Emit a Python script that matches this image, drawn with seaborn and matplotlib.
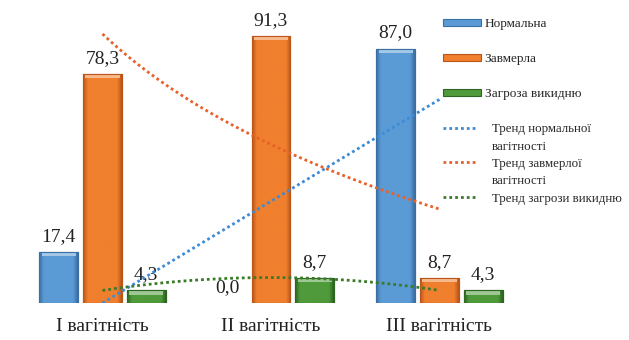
import numpy as np
import pandas as pd
import matplotlib
matplotlib.use("Agg")
import matplotlib.pyplot as plt
from matplotlib.patches import Patch, Rectangle
from matplotlib.lines import Line2D
import seaborn as sns

# Data
categories = ["I вагітність", "II вагітність", "III вагітність"]
series = ["Нормальна", "Завмерла", "Загроза викидню"]
normal = [17.4, 0.0, 87.0]
missed = [78.3, 91.3, 8.7]
threat = [4.3, 8.7, 4.3]
trend_labels = ["Тренд нормальної\nвагітності", "Тренд завмерлої\nвагітності",
                "Тренд загрози викидню"]

bar_colors = ["#5b9bd5", "#f07f2e", "#4f9a3a"]
edge_colors = ["#3a6fa3", "#b9561a", "#2d6522"]
trend_colors = ["#3d8ad6", "#e8602a", "#3b7a28"]

df = pd.DataFrame({
    "cat": np.repeat(categories, 3),
    "series": series * 3,
    "value": [v for trio in zip(normal, missed, threat) for v in trio],
})

sns.set_theme(style="white")
plt.rcParams["font.family"] = ["Liberation Serif", "DejaVu Serif"]

W, H = 629, 340
fig = plt.figure(figsize=(W / 100, H / 100), dpi=100)
fig.patch.set_facecolor("white")

base_px = 303
ax = fig.add_axes([0, (H - base_px) / H, 1, base_px / H])

sns.barplot(data=df, x="cat", y="value", hue="series", order=categories,
            hue_order=series, palette=bar_colors, width=0.78, gap=0.11,
            saturation=1, legend=False, ax=ax)

px_per_unit = 2.925
step = 168.5

# bevelled look: horizontal shading, darker rim, light top strip
for i, cont in enumerate(ax.containers):
    base = np.array(matplotlib.colors.to_rgb(bar_colors[i]))
    dark = np.array(matplotlib.colors.to_rgb(edge_colors[i]))
    t = np.linspace(0, 1, 64)
    prof = np.clip(np.minimum(t, 1 - t) / 0.12, 0, 1)
    grad = dark[None, :] * (1 - prof[:, None]) + base[None, :] * prof[:, None]
    for rect in cont:
        h = rect.get_height()
        if h <= 0:
            continue
        x0, w = rect.get_x(), rect.get_width()
        rect.set_edgecolor(dark)
        rect.set_linewidth(0.8)
        im = ax.imshow(grad[None, :, :], extent=[x0, x0 + w, 0, h],
                       aspect="auto", zorder=rect.get_zorder() + 0.1,
                       interpolation="bilinear")
        im.set_clip_path(rect)
        hl = min(1.3, h * 0.3)
        light = base + (1 - base) * 0.45
        ax.add_patch(Rectangle((x0 + w * 0.06, h - hl * 1.15), w * 0.88, hl,
                               facecolor=light, edgecolor="none",
                               zorder=rect.get_zorder() + 0.2))
        ax.add_patch(Rectangle((x0, 0), w, h, facecolor="none",
                               edgecolor=dark, linewidth=0.8,
                               zorder=rect.get_zorder() + 0.3))
    vals = [r.get_height() for r in cont]
    ax.bar_label(cont, labels=[f"{v:.1f}".replace(".", ",") for v in vals],
                 padding=5, fontsize=14, color="#222222")
ax.set_xlim(-102.5 / step, (W - 102.5) / step)
ax.set_ylim(0, base_px / px_per_unit)

# trend lines: linear, logarithmic, 2nd order polynomial
xs = np.array([1.0, 2.0, 3.0])
xx = np.linspace(1, 3, 100)
lin = np.polyfit(xs, normal, 1)
logc = np.polyfit(np.log(xs), missed, 1)
poly = np.polyfit(xs, threat, 2)
trends = [np.polyval(lin, xx), np.polyval(logc, np.log(xx)), np.polyval(poly, xx)]
for yv, c in zip(trends, trend_colors):
    ax.plot(xx - 1, yv, color=c, linestyle=(0, (1, 1.1)), linewidth=2.0, zorder=5)

ax.set_xticks(range(3))
ax.set_xticklabels(categories, fontsize=14, color="#222222")
ax.tick_params(axis="x", length=0, pad=11)
ax.set_yticks([])
ax.set_xlabel("")
ax.set_ylabel("")
for s in ax.spines.values():
    s.set_visible(False)
ax.patch.set_alpha(0)

# legends
bar_handles = [Patch(facecolor=c, edgecolor=e, linewidth=0.8)
               for c, e in zip(bar_colors, edge_colors)]
leg1 = ax.legend(bar_handles, series, loc="upper left",
                 bbox_to_anchor=(443 / W, 1 - 18 / H), bbox_transform=fig.transFigure,
                 frameon=False, fontsize=9.5, handlelength=2.9, handleheight=0.5,
                 handletextpad=0.25, labelspacing=1.75, borderpad=0, borderaxespad=0)
ax.add_artist(leg1)

blank = Line2D([], [], linestyle="none")
trend_handles, trend_texts = [], []
for lab, c in zip(trend_labels, trend_colors):
    parts = lab.split("\n")
    trend_handles.append(Line2D([], [], color=c, linestyle=(0, (1, 1.1)), linewidth=2.0))
    trend_texts.append(parts[0])
    for p in parts[1:]:
        trend_handles.append(blank)
        trend_texts.append(p)
leg2 = ax.legend(trend_handles, trend_texts, loc="upper left",
                 bbox_to_anchor=(443 / W, 1 - 123 / H), bbox_transform=fig.transFigure,
                 frameon=False, fontsize=9.3, handlelength=2.6,
                 handletextpad=1.2, labelspacing=0.42, borderpad=0, borderaxespad=0)

fig.savefig("out.png", dpi=100, facecolor="white")
